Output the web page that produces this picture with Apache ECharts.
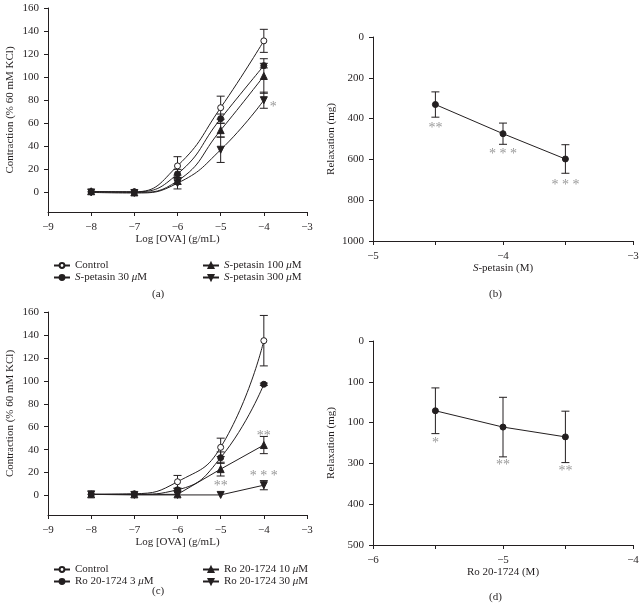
<!DOCTYPE html>
<html>
<head>
<meta charset="utf-8">
<script src="https://cdn.jsdelivr.net/npm/echarts@6/dist/echarts.min.js"></script>
<style>html,body{margin:0;padding:0;background:#fff}#chart{width:643px;height:606px}</style>
</head>
<body>
<div id="chart"></div>
<script>
// log [OVA] doses, panels (a) and (c)
var ovaX = [-8, -7, -6, -5, -4];
var ovaTicks = [-9, -8, -7, -6, -5, -4, -3];
var contrTicks = [0, 20, 40, 60, 80, 100, 120, 140, 160];

// (a) S-petasin
var aControl = [0.5, 0.5, 23, 73.5, 131.5];
var aControlErr = [0, 0, 8, 10, 10];
var aS30 = [0.5, 0.5, 16, 64, 110];
var aS30Err = [0, 0, 4, 4, 2];
var aS100 = [1, 0, 10, 54, 101];
var aS100Err = [0, 0, 3, 6, 15];
var aS300 = [0, -0.5, 8, 37, 80];
var aS300Err = [0, 0, 5, 11, 7];
var aStars = [[-3.78, 74, '*']];

// (b) S-petasin relaxation
var bX = [-4.52, -4, -3.52];
var bY = [331, 474, 598];
var bErr = [62, 52, 70];
var bXTicks = [-5, -4.52, -4, -3.52, -3];
var bXLabels = [-5, -4, -3];
var bStars = [[-4.52, 449, '**'], [-4, 575, '* * *'], [-3.52, 729, '* * *']];

// (c) Ro 20-1724
var cControl = [1, 1.5, 12, 42, 135];
var cControlErr = [0, 0, 5.5, 8, 22];
var cR3 = [1, 1, 5, 33, 97];
var cR3Err = [0, 0, 1, 5, 1];
var cR10 = [1, 1, 1, 23, 44];
var cR10Err = [0, 0, 0, 6, 7.5];
var cR30 = [1, 0.5, 0.5, 0.5, 9];
var cR30Err = [0, 0, 0, 0, 4];
var cStars = [[-4, 52, '**'], [-4, 17, '* * *'], [-5, 8, '**']];

// (d) Ro 20-1724 relaxation
var dX = [-5.52, -5, -4.52];
var dY = [171, 211, 235];
var dErr = [56, 73, 63];
var dXTicks = [-6, -5.52, -5, -4.52, -4];
var dXLabels = [-6, -5, -4];
var dYLabels = ['0', '100', '100', '300', '400', '500'];
var dStars = [[-5.52, 251, '*'], [-5, 305, '**'], [-4.52, 320, '**']];

var ink = '#231f20';
var font = 'Liberation Serif';

function pairs(xs, ys) {
    return xs.map(function (x, i) { return [x, ys[i]]; });
}
function bars(xs, ys, es) {
    var out = [];
    xs.forEach(function (x, i) {
        if (es[i] > 0) out.push([x, ys[i] - es[i], ys[i] + es[i]]);
    });
    return out;
}
function minus(v) {
    return String(v).replace('-', '\u2212');
}

function errorBarItem(params, api) {
    var x = api.value(0);
    var lo = api.coord([x, api.value(1)]);
    var hi = api.coord([x, api.value(2)]);
    var w = 4;
    var st = {stroke: ink, lineWidth: 1};
    return {type: 'group', children: [
        {type: 'line', shape: {x1: lo[0], y1: lo[1], x2: hi[0], y2: hi[1]}, style: st},
        {type: 'line', shape: {x1: lo[0] - w, y1: lo[1], x2: lo[0] + w, y2: lo[1]}, style: st},
        {type: 'line', shape: {x1: hi[0] - w, y1: hi[1], x2: hi[0] + w, y2: hi[1]}, style: st}
    ]};
}

var downTri = 'path://M0,0 L10,0 L5,9 Z';
var rich = {
    i: {fontStyle: 'italic', fontFamily: font, fontSize: 11, color: ink},
    n: {fontFamily: font, fontSize: 11, color: ink}
};

function xAxis(grid, min, max, ticks, labels, name) {
    return {
        type: 'value', gridIndex: grid, min: min, max: max,
        name: name, nameLocation: 'middle', nameGap: 22,
        nameTextStyle: {fontFamily: font, fontSize: 11, color: ink, rich: rich},
        axisLine: {onZero: false, lineStyle: {color: ink, width: 1}},
        axisTick: {length: 4, lineStyle: {color: ink}, customValues: ticks},
        axisLabel: {margin: 10, fontFamily: font, fontSize: 11, color: ink, customValues: labels, formatter: minus},
        splitLine: {show: false}
    };
}
function yAxis(grid, min, max, ticks, name, inverse, fmt, gap) {
    return {
        type: 'value', gridIndex: grid, min: min, max: max, inverse: inverse,
        name: name, nameLocation: 'middle', nameGap: gap,
        nameTextStyle: {fontFamily: font, fontSize: 11, color: ink},
        axisLine: {show: true, onZero: false, lineStyle: {color: ink, width: 1}},
        axisTick: {show: true, length: 4, lineStyle: {color: ink}, customValues: ticks},
        axisLabel: {margin: 9, fontFamily: font, fontSize: 11, color: ink, customValues: ticks,
            formatter: fmt || function (v) { return String(v); }},
        splitLine: {show: false}
    };
}

// open: white-filled circle with thin outline
function lineSeries(name, idx, data, symbol, smooth, open) {
    return {
        name: name, type: 'line', xAxisIndex: idx, yAxisIndex: idx,
        data: data, symbol: symbol, symbolSize: symbol === 'circle' ? 6 : 7,
        smooth: smooth ? 0.5 : false, z: 3,
        lineStyle: {color: ink, width: 1},
        itemStyle: {color: open ? '#fff' : ink, borderColor: ink, borderWidth: 1}
    };
}
function barSeries(idx, data) {
    return {type: 'custom', xAxisIndex: idx, yAxisIndex: idx, renderItem: errorBarItem,
        encode: {x: 0, y: [1, 2]}, data: data, z: 2, silent: true};
}
function starSeries(idx, data) {
    return {type: 'scatter', xAxisIndex: idx, yAxisIndex: idx, symbolSize: 0, data: data, silent: true,
        label: {show: true, position: 'inside', fontFamily: font, fontSize: 14, color: '#808080',
            formatter: function (p) { return p.value[2]; }}};
}

var chart = echarts.init(document.getElementById('chart'));
var option = {
    backgroundColor: '#fff',
    animation: false,
    grid: [
        {left: 48, top: 8, width: 259, height: 204},
        {left: 373, top: 37, width: 260, height: 204},
        {left: 48, top: 312, width: 259, height: 203},
        {left: 373, top: 341, width: 260, height: 204}
    ],
    xAxis: [
        xAxis(0, -9, -3, ovaTicks, ovaTicks, 'Log [OVA] (g/mL)'),
        xAxis(1, -5, -3, bXTicks, bXLabels, '{i|S}{n|-petasin (M)}'),
        xAxis(2, -9, -3, ovaTicks, ovaTicks, 'Log [OVA] (g/mL)'),
        xAxis(3, -6, -4, dXTicks, dXLabels, 'Ro 20-1724 (M)')
    ],
    yAxis: [
        yAxis(0, -17, 160, contrTicks, 'Contraction (% 60 mM KCl)', false, null, 32),
        yAxis(1, 0, 1000, [0, 200, 400, 600, 800, 1000], 'Relaxation (mg)', true, null, 36),
        yAxis(2, -17, 160, contrTicks, 'Contraction (% 60 mM KCl)', false, null, 32),
        yAxis(3, 0, 500, [0, 100, 200, 300, 400, 500], 'Relaxation (mg)', true,
            function (v) { return dYLabels[Math.round(v / 100)]; }, 36)
    ],
    legend: [
        {left: 48, top: 255, orient: 'vertical', itemGap: 1, itemWidth: 16, itemHeight: 6,
            data: ['Control', 'S-petasin 30 μM']},
        {left: 197, top: 255, orient: 'vertical', itemGap: 1, itemWidth: 16, itemHeight: 6,
            data: ['S-petasin 100 μM', 'S-petasin 300 μM']},
        {left: 48, top: 559, orient: 'vertical', itemGap: 1, itemWidth: 16, itemHeight: 6,
            data: ['Control', 'Ro 20-1724 3 μM']},
        {left: 197, top: 559, orient: 'vertical', itemGap: 1, itemWidth: 16, itemHeight: 6,
            data: ['Ro 20-1724 10 μM', 'Ro 20-1724 30 μM']}
    ].map(function (l) {
        l.textStyle = {fontFamily: font, fontSize: 11, color: ink, rich: rich};
        l.formatter = function (name) {
            return name.replace(/^S-/, '{i|S}-').replace('μ', '{i|μ}');
        };
        l.selectedMode = false;
        return l;
    }),
    graphic: [
        {type: 'text', left: 152, top: 289, style: {text: '(a)', font: '11px ' + font, fill: ink}},
        {type: 'text', left: 489, top: 289, style: {text: '(b)', font: '11px ' + font, fill: ink}},
        {type: 'text', left: 152, top: 586, style: {text: '(c)', font: '11px ' + font, fill: ink}},
        {type: 'text', left: 489, top: 592, style: {text: '(d)', font: '11px ' + font, fill: ink}}
    ],
    series: [
        barSeries(0, bars(ovaX, aControl, aControlErr)),
        barSeries(0, bars(ovaX, aS30, aS30Err)),
        barSeries(0, bars(ovaX, aS100, aS100Err)),
        barSeries(0, bars(ovaX, aS300, aS300Err)),
        lineSeries('Control', 0, pairs(ovaX, aControl), 'circle', true, true),
        lineSeries('S-petasin 30 μM', 0, pairs(ovaX, aS30), 'circle', true),
        lineSeries('S-petasin 100 μM', 0, pairs(ovaX, aS100), 'triangle', true),
        lineSeries('S-petasin 300 μM', 0, pairs(ovaX, aS300), downTri, true),
        starSeries(0, aStars),

        barSeries(1, bars(bX, bY, bErr)),
        lineSeries('S-petasin relax', 1, pairs(bX, bY), 'circle', false),
        starSeries(1, bStars),

        barSeries(2, bars(ovaX, cControl, cControlErr)),
        barSeries(2, bars(ovaX, cR3, cR3Err)),
        barSeries(2, bars(ovaX, cR10, cR10Err)),
        barSeries(2, bars(ovaX, cR30, cR30Err)),
        lineSeries('Control', 2, pairs(ovaX, cControl), 'circle', true, true),
        lineSeries('Ro 20-1724 3 μM', 2, pairs(ovaX, cR3), 'circle', true),
        lineSeries('Ro 20-1724 10 μM', 2, pairs(ovaX, cR10), 'triangle', false),
        lineSeries('Ro 20-1724 30 μM', 2, pairs(ovaX, cR30), downTri, false),
        starSeries(2, cStars),

        barSeries(3, bars(dX, dY, dErr)),
        lineSeries('Ro relax', 3, pairs(dX, dY), 'circle', false),
        starSeries(3, dStars)
    ]
};
chart.setOption(option);
</script>
</body>
</html>
